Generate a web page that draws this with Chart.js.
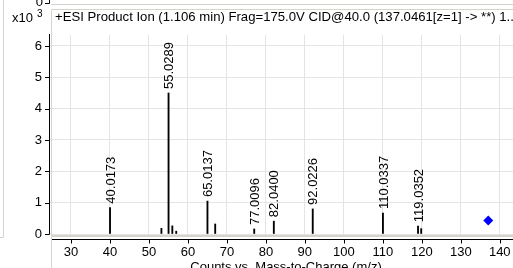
<!DOCTYPE html>
<html><head><meta charset="utf-8">
<script src="https://cdn.jsdelivr.net/npm/chart.js@4/dist/chart.umd.min.js"></script>
<style>html,body{margin:0;padding:0;background:#fff;overflow:hidden}#wrap{position:relative;width:513px;height:268px}canvas{display:block}</style>
</head><body><div id="wrap"><canvas id="c" width="513" height="268"></canvas></div>
<script>
// ---- data (intensities in counts x10^3) ----
const peakMz        = [40.0173, 53.2, 55.0289, 56.0, 57.0, 65.0137, 67.0, 77.0096, 82.0400, 92.0226, 110.0337, 119.0352, 119.85];
const peakIntensity = [0.84,    0.18, 4.50,    0.26, 0.09, 1.05,    0.32, 0.16,    0.41,    0.80,    0.67,     0.25,     0.17];
const peakLabels    = ["40.0173", "", "55.0289", "", "", "65.0137", "", "77.0096", "82.0400", "92.0226", "110.0337", "119.0352", ""];
const precursorMz = [137.0461];
const precursorIntensity = [0.43];
const xTickValues = [30, 40, 50, 60, 70, 80, 90, 100, 110, 120, 130, 140];
const yTickValues = [0, 1, 2, 3, 4, 5, 6];
const titleText = "+ESI Product Ion (1.106 min) Frag=175.0V CID@40.0 (137.0461[z=1] -> **) 1...";
const scaleText = "x10";
const scaleExp = "3";
const xAxisTitle = "Counts vs. Mass-to-Charge (m/z)";

const FONT = '13px "Liberation Sans", Arial, sans-serif';

const decor = {
  id: 'decor',
  beforeDraw(chart) {
    const ctx = chart.ctx;
    ctx.save();
    ctx.fillStyle = '#fff';
    ctx.fillRect(0, 0, chart.width, chart.height);
    ctx.restore();
  },
  afterDraw(chart) {
    const ctx = chart.ctx, a = chart.chartArea;
    const xs = chart.scales.x, ys = chart.scales.y;
    ctx.save();
    // background panel fragments
    ctx.strokeStyle = '#d6d3cc';
    ctx.lineWidth = 1;
    ctx.beginPath();
    ctx.moveTo(3.5, 0); ctx.lineTo(3.5, 237.5); ctx.lineTo(0, 237.5);
    ctx.moveTo(a.left + 2, 4.5); ctx.lineTo(chart.width, 4.5);
    ctx.stroke();
    ctx.strokeStyle = '#000';
    ctx.beginPath();
    ctx.moveTo(a.left + 0.5, 0); ctx.lineTo(a.left + 0.5, 3.5); ctx.lineTo(a.left - 4, 3.5);
    ctx.stroke();
    ctx.fillStyle = '#000';
    ctx.font = FONT;
    ctx.textAlign = 'right';
    ctx.textBaseline = 'middle';
    ctx.fillText('0', a.left - 6, 2);

    // panel frame
    ctx.strokeStyle = '#d6d3cc';
    ctx.beginPath();
    ctx.moveTo(a.left + 2.5, chart.height); ctx.lineTo(a.left + 2.5, 9.5); ctx.lineTo(chart.width, 9.5);
    ctx.stroke();
    ctx.fillStyle = '#d6d3cc';
    ctx.fillRect(a.left + 2, a.bottom + 1, chart.width - a.left, 2);

    // title
    ctx.fillStyle = '#000';
    ctx.font = '13.15px "Liberation Sans", Arial, sans-serif';
    ctx.textAlign = 'left';
    ctx.textBaseline = 'middle';
    ctx.fillText(titleText, 55, 17);
    ctx.font = FONT;
    ctx.fillText(scaleText, 12, 18);
    ctx.font = '10px "Liberation Sans", Arial, sans-serif';
    ctx.fillText(scaleExp, 37, 14);

    // y axis line + ticks
    ctx.strokeStyle = '#000';
    ctx.lineWidth = 1;
    ctx.beginPath();
    ctx.moveTo(a.left + 0.5, a.top - 1); ctx.lineTo(a.left + 0.5, a.bottom + 0.5);
    yTickValues.forEach(v => {
      const y = Math.round(ys.getPixelForValue(v)) + 0.5;
      ctx.moveTo(a.left - 4, y); ctx.lineTo(a.left + 0.5, y);
    });
    // x axis line + ticks
    const xl = a.bottom + 5.5;
    ctx.moveTo(a.left + 3, xl); ctx.lineTo(chart.width, xl);
    xTickValues.forEach(v => {
      const x = Math.round(xs.getPixelForValue(v)) + 0.5;
      ctx.moveTo(x, xl); ctx.lineTo(x, xl + 4);
    });
    ctx.stroke();

    // x axis title
    ctx.font = FONT;
    ctx.textAlign = 'center';
    ctx.textBaseline = 'top';
    ctx.fillText(xAxisTitle, 286, 261);

    // peak labels
    const meta = chart.getDatasetMeta(0);
    meta.data.forEach((bar, i) => {
      const lab = peakLabels[i];
      if (!lab) return;
      ctx.save();
      ctx.translate(bar.x, bar.y - 4);
      ctx.rotate(-Math.PI / 2);
      ctx.textAlign = 'left';
      ctx.textBaseline = 'middle';
      ctx.font = FONT;
      ctx.fillStyle = '#000';
      ctx.fillText(lab, 0, 1);
      ctx.restore();
    });
    ctx.restore();
  }
};

new Chart(document.getElementById('c'), {
  type: 'bar',
  data: {
    datasets: [
      {
        type: 'bar',
        data: peakMz.map((m, i) => ({ x: m, y: peakIntensity[i] })),
        backgroundColor: '#000',
        borderWidth: 0,
        barThickness: 1.2,
        order: 2
      },
      {
        type: 'scatter',
        data: precursorMz.map((m, i) => ({ x: m, y: precursorIntensity[i] })),
        pointStyle: 'rectRot',
        pointRadius: 5,
        backgroundColor: '#0000ff',
        borderColor: '#0000ff',
        borderWidth: 0,
        order: 1
      }
    ]
  },
  options: {
    responsive: false,
    animation: false,
    devicePixelRatio: 1,
    layout: { autoPadding: false, padding: { top: 35, left: 0, right: 0, bottom: 0 } },
    plugins: { legend: { display: false }, tooltip: { enabled: false }, title: { display: false } },
    scales: {
      x: {
        type: 'linear',
        min: 24.36,
        max: 143.4,
        offset: false,
        afterFit(s) { s.height = 34; s.paddingLeft = 0; s.paddingRight = 0; },
        afterBuildTicks(s) { s.ticks = xTickValues.map(v => ({ value: v })); },
        grid: { color: '#e4e4e4', drawTicks: false, lineWidth: 1, offset: false },
        border: { display: false },
        ticks: { font: { family: '"Liberation Sans", Arial, sans-serif', size: 13 }, color: '#000', padding: 11, maxRotation: 0, autoSkip: false }
      },
      y: {
        type: 'linear',
        min: 0,
        max: 6.35,
        afterFit(s) { s.width = 49; s.paddingTop = 0; s.paddingBottom = 0; },
        afterBuildTicks(s) { s.ticks = yTickValues.map(v => ({ value: v })); },
        grid: { color: '#e4e4e4', drawTicks: false, lineWidth: 1 },
        border: { display: false },
        ticks: { font: { family: '"Liberation Sans", Arial, sans-serif', size: 13 }, color: '#000', padding: 7 }
      }
    }
  },
  plugins: [decor]
});
</script></body></html>
